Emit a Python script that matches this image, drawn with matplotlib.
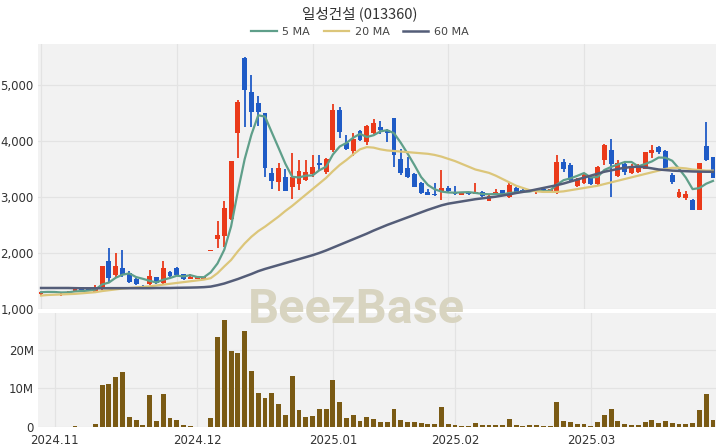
import numpy as np
import pandas as pd
import matplotlib
matplotlib.use('Agg')
import matplotlib.pyplot as plt
from matplotlib.ticker import FuncFormatter

# daily candles, 2024-10-30 .. 2025-03-28 (100 trading days)
opens = [1260, 1290, 1320, 1250, 1290, 1330, 1390, 1360, 1310, 1350,
         1860, 1600, 1730, 1650, 1530, 1410, 1440, 1570, 1470, 1660,
         1730, 1620, 1540, 1540, 1540, 2040, 2250, 2300, 2600, 4150,
         5480, 4870, 4680, 4490, 3430, 3270, 3360, 3180, 3230, 3300,
         3410, 3600, 3450, 3840, 4550, 3970, 3820, 4180, 3980, 4140,
         4250, 4200, 4410, 3680, 3520, 3410, 3250, 3090, 3060, 3110,
         3160, 3060, 3040, 3070, 3060, 3090, 2930, 3050, 3120, 3000,
         3160, 3130, 3120, 3110, 3150, 3100, 3070, 3620, 3570, 3200,
         3250, 3360, 3230, 3660, 3840, 3370, 3590, 3430, 3450, 3500,
         3790, 3890, 3820, 3390, 3000, 2980, 2950, 2770, 3910, 3710]
highs = [1310, 1320, 1330, 1280, 1320, 1390, 1400, 1370, 1420, 1770,
         2090, 2000, 2050, 1680, 1550, 1420, 1700, 1580, 1860, 1680,
         1750, 1630, 1620, 1580, 1580, 2040, 2570, 2930, 3640, 4730,
         5500, 5180, 4800, 4500, 3520, 3610, 3500, 3790, 3660, 3660,
         3750, 3750, 3700, 4660, 4600, 4100, 4140, 4200, 4280, 4390,
         4360, 4220, 4410, 3860, 3720, 3420, 3260, 3140, 3250, 3480,
         3200, 3200, 3090, 3080, 3250, 3100, 3030, 3140, 3130, 3250,
         3170, 3140, 3130, 3150, 3160, 3150, 3750, 3680, 3600, 3330,
         3420, 3370, 3550, 3940, 4040, 3660, 3650, 3580, 3580, 3810,
         3930, 3910, 3830, 3430, 3150, 3100, 2970, 3610, 4340, 3720]
lows = [1250, 1280, 1290, 1240, 1280, 1320, 1330, 1330, 1300, 1340,
        1470, 1550, 1570, 1470, 1430, 1390, 1420, 1450, 1450, 1580,
        1590, 1520, 1530, 1530, 1530, 2040, 2090, 2100, 2580, 3700,
        4250, 4250, 4270, 3360, 3140, 3100, 3100, 2960, 3130, 3280,
        3360, 3480, 3410, 3800, 4050, 3840, 3730, 4000, 3920, 4120,
        4130, 3980, 3540, 3400, 3340, 3170, 3050, 3030, 3020, 2950,
        3070, 3030, 3030, 3040, 3050, 3000, 2920, 3040, 3010, 2990,
        3060, 3080, 3090, 3060, 3090, 3090, 3060, 3440, 3290, 3180,
        3230, 3220, 3220, 3570, 3000, 3350, 3400, 3410, 3430, 3490,
        3700, 3760, 3510, 3240, 2980, 2950, 2760, 2760, 3640, 3330]
closes = [1300, 1310, 1300, 1270, 1310, 1380, 1340, 1340, 1360, 1770,
          1550, 1770, 1610, 1480, 1440, 1395, 1590, 1460, 1730, 1590,
          1600, 1530, 1570, 1565, 1570, 2040, 2320, 2800, 3640, 4700,
          4910, 4520, 4520, 3520, 3290, 3520, 3110, 3360, 3460, 3450,
          3540, 3570, 3680, 4550, 4160, 3860, 4040, 4020, 4270, 4320,
          4200, 4150, 3750, 3420, 3360, 3180, 3070, 3040, 3030, 3160,
          3100, 3050, 3070, 3050, 3090, 3010, 3020, 3090, 3020, 3210,
          3070, 3090, 3100, 3140, 3100, 3140, 3620, 3500, 3300, 3320,
          3390, 3230, 3540, 3930, 3590, 3610, 3450, 3540, 3540, 3800,
          3840, 3800, 3520, 3270, 3090, 3050, 2770, 3610, 3660, 3340]
# volume in millions of shares
volume = [0.1, 0.1, 0.05, 0.1, 0.1, 0.3, 0.1, 0.1, 0.7, 11.0,
          11.1, 13.0, 14.2, 2.6, 1.7, 0.6, 8.2, 1.6, 8.5, 2.4,
          1.9, 0.4, 0.3, 0.1, 0.1, 2.3, 23.3, 27.8, 19.7, 19.3,
          24.8, 14.6, 8.7, 7.5, 8.9, 6.1, 3.0, 13.3, 4.5, 2.6,
          2.9, 4.6, 4.6, 12.3, 6.6, 2.3, 3.2, 1.6, 2.6, 2.2,
          1.4, 1.4, 4.6, 1.9, 1.2, 1.2, 1.1, 0.9, 0.9, 5.3,
          0.7, 0.5, 0.2, 0.2, 1.1, 0.5, 0.5, 0.4, 0.5, 2.2,
          0.5, 0.3, 0.4, 0.6, 0.3, 0.3, 6.6, 1.6, 1.3, 0.7,
          0.7, 0.3, 1.4, 3.1, 4.6, 1.6, 0.9, 0.4, 0.5, 1.2,
          1.9, 1.1, 1.6, 1.1, 0.9, 0.9, 1.1, 4.4, 8.5, 1.9]
# moving averages (they include days before the window)
ma20 = [1240, 1250, 1255, 1260, 1265, 1270, 1280, 1290, 1300, 1320,
        1335, 1350, 1365, 1375, 1385, 1395, 1405, 1420, 1435, 1450,
        1465, 1480, 1495, 1510, 1525, 1550, 1640, 1760, 1875, 2030,
        2170, 2290, 2390, 2470, 2560, 2650, 2750, 2840, 2940, 3040,
        3140, 3240, 3340, 3460, 3570, 3660, 3760, 3850, 3890, 3880,
        3850, 3830, 3820, 3810, 3800, 3790, 3780, 3770, 3750, 3720,
        3680, 3640, 3590, 3540, 3490, 3460, 3430, 3380, 3320, 3260,
        3200, 3160, 3120, 3100, 3090, 3090, 3090, 3100, 3120, 3140,
        3160, 3180, 3200, 3230, 3260, 3290, 3320, 3350, 3380, 3410,
        3440, 3470, 3500, 3520, 3520, 3510, 3490, 3480, 3470, 3470]
ma60 = [1375, 1375, 1375, 1375, 1375, 1372, 1370, 1370, 1370, 1370,
        1372, 1372, 1372, 1372, 1372, 1372, 1372, 1375, 1375, 1375,
        1378, 1380, 1382, 1385, 1390, 1400, 1425, 1455, 1495, 1535,
        1580, 1625, 1675, 1715, 1750, 1785, 1820, 1855, 1890, 1925,
        1960, 2000, 2045, 2095, 2145, 2195, 2245, 2295, 2345, 2400,
        2450, 2500, 2545, 2590, 2635, 2680, 2725, 2770, 2810, 2850,
        2880, 2900, 2920, 2940, 2960, 2975, 2990, 3005, 3025, 3045,
        3070, 3090, 3110, 3135, 3160, 3185, 3210, 3240, 3275, 3310,
        3345, 3380, 3415, 3450, 3475, 3500, 3520, 3535, 3540, 3530,
        3510, 3490, 3480, 3470, 3465, 3460, 3455, 3452, 3450, 3450]

month_labels = ['2024.11', '2024.12', '2025.01', '2025.02', '2025.03']
month_start = [2, 23, 43, 61, 81]   # index of first trading day of month

UP = '#ea3a1a'
DOWN = '#1f5bc6'
VOL = '#7a5a14'

df = pd.DataFrame({'Open': opens, 'High': highs, 'Low': lows, 'Close': closes,
                   'Volume': volume, 'MA20': ma20, 'MA60': ma60})
df['MA5'] = df['Close'].rolling(5, min_periods=1).mean()
x = np.arange(len(df))

fig = plt.figure(figsize=(7.2, 4.48), dpi=100)
ax = fig.add_axes([38/720, 1-309/448, 678/720, 265/448])
axv = fig.add_axes([38/720, 1-427/448, 678/720, 114/448])

for a in (ax, axv):
    a.set_facecolor('#f2f2f2')
    for s in a.spines.values():
        s.set_visible(False)
    a.tick_params(length=0, labelsize=8.5, labelcolor='#333333', pad=3)
    a.grid(True, color='#e3e3e3', lw=0.9)
    a.set_axisbelow(True)
    a.set_xlim(-0.45, len(df) - 0.55)

# candles
up = df['Close'] >= df['Open']
colors = np.where(up, UP, DOWN)
body_lo = df[['Open', 'Close']].min(axis=1)
body_h = (df['Close'] - df['Open']).abs().clip(lower=14)
ax.vlines(x, df['Low'], df['High'], color=colors, lw=1.3, zorder=3)
ax.bar(x, body_h, bottom=body_lo, width=0.72, color=colors, zorder=3)

ax.plot(x, df['MA5'], color='#5f9f8a', lw=1.6, label='5 MA', zorder=4)
ax.plot(x, df['MA20'], color='#dcc67a', lw=1.6, label='20 MA', zorder=4)
ax.plot(x, df['MA60'], color='#545d78', lw=1.8, label='60 MA', zorder=4)

ax.set_ylim(1000, 5730)
ax.set_yticks([1000, 2000, 3000, 4000, 5000])
ax.yaxis.set_major_formatter(FuncFormatter(lambda v, p: '{:,.0f}'.format(v)))
ax.set_xticks([0, 20, 40, 60, 80])
ax.set_xticklabels([])

# volume
axv.bar(x, df['Volume'], width=0.72, color=VOL, zorder=3)
axv.set_ylim(0, 29.6)
axv.set_yticks([0, 10, 20])
axv.yaxis.set_major_formatter(FuncFormatter(lambda v, p: '0' if v == 0 else '%dM' % v))
axv.set_xticks(month_start)
axv.set_xticklabels(month_labels)
axv.tick_params(axis='x', pad=5)

fig.text(0.5, 1-14/448, '일성건설 (013360)', ha='center', va='center', fontsize=10.5,
         color='#333333', family=['Noto Sans CJK KR', 'DejaVu Sans'])
fig.legend(loc='center', bbox_to_anchor=(0.5, 1-32/448), ncol=3, frameon=False,
           fontsize=8, handlelength=2.3, columnspacing=1.2, handletextpad=0.5,
           labelcolor='#444444')

fig.text(356/720, 1-310/448, 'BeezBase', ha='center', va='center', fontsize=35,
         fontweight='bold', family='Roboto', color='#d8d4c0', zorder=10)

fig.savefig('out.png', dpi=100, facecolor='white')
